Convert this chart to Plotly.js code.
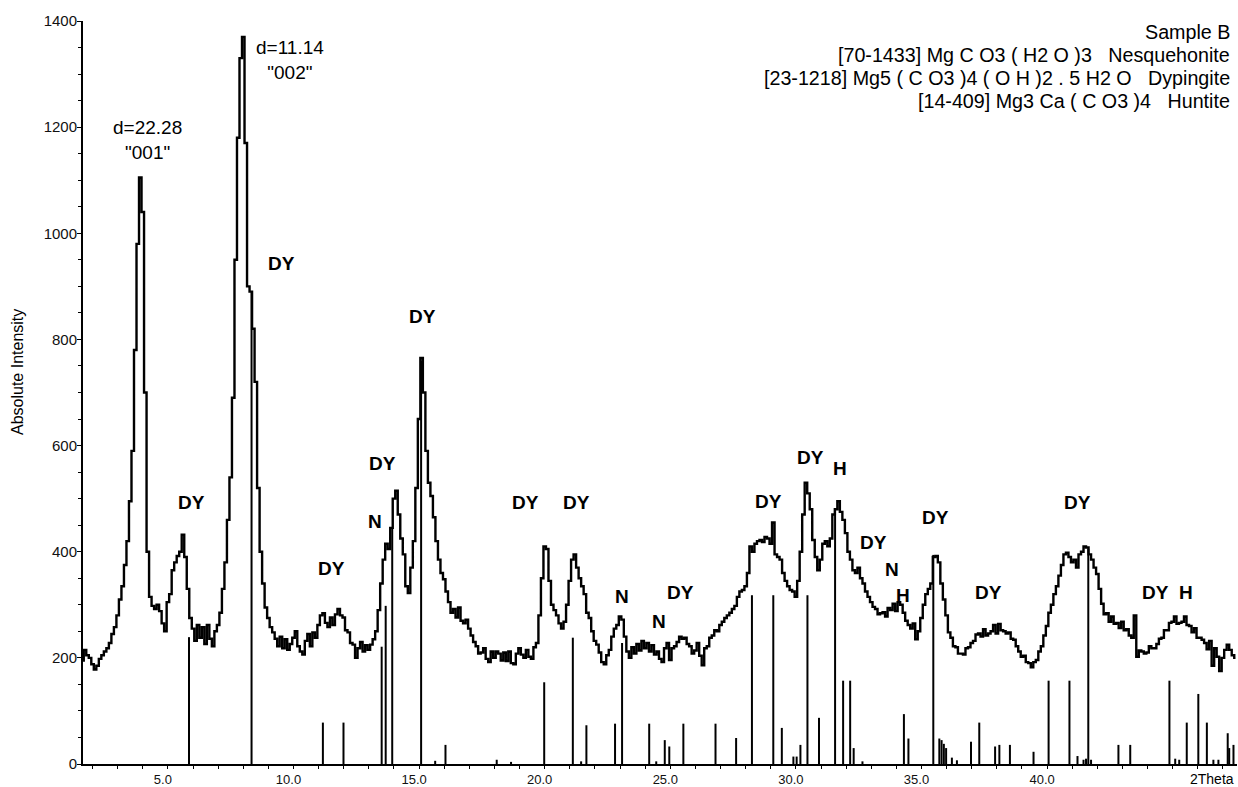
<!DOCTYPE html>
<html>
<head>
<meta charset="utf-8">
<script src="https://cdn.plot.ly/plotly-3.0.1.min.js"></script>
<style>
html,body{margin:0;padding:0;background:#fff;}
#chart{width:1238px;height:787px;}
</style>
</head>
<body>
<div id="chart"></div>
<script>
// Measured diffractogram: each row holds intensities for 2Theta = degree + 0.0 ... degree + 0.9 (step 0.1)
const rowFirstDegree = 1;
const intensityRows = [
  [null,null,null,null,null,null,195,215,205,200],
  [188,178,185,198,205,212,218,228,245,258],
  [280,310,335,375,420,495,590,780,980,1105],
  [1040,700,400,315,298,292,300,288,265,250],
  [305,320,365,380,392,400,432,390,330,275],
  [255,232,262,238,258,226,262,236,222,250],
  [262,285,330,380,460,540,690,950,1180,1330],
  [1370,1170,900,890,820,720,520,400,340,295],
  [275,258,248,236,222,240,218,235,215,226],
  [238,250,222,212,206,232,245,222,248,238],
  [262,280,284,266,258,276,262,282,292,280],
  [276,252,248,228,225,200,218,230,212,224],
  [215,225,235,250,290,340,385,415,405,445],
  [500,515,470,425,395,335,322,370,420,520],
  [650,765,700,590,530,505,465,420,385,360],
  [348,325,305,285,292,276,295,270,265,272],
  [255,242,230,222,208,210,218,198,192,212],
  [200,212,208,195,210,194,212,190,188,208],
  [218,206,200,215,202,198,220,228,280,350],
  [410,405,345,300,290,280,265,255,268,300],
  [345,385,395,370,350,335,320,285,275,250],
  [232,225,210,192,188,205,215,240,255,262],
  [278,272,240,212,200,220,208,226,214,232],
  [218,228,212,224,206,212,198,192,218,228],
  [196,218,222,230,240,236,238,226,222,208],
  [214,228,204,186,218,222,238,242,252,250],
  [262,268,275,280,285,292,298,315,325,328],
  [335,360,410,400,415,420,422,418,428,425],
  [415,455,395,390,385,360,345,335,328,325],
  [315,345,400,470,530,510,480,422,390,365],
  [385,415,420,410,425,470,480,495,475,460],
  [435,400,385,365,360,370,350,340,325,315],
  [305,296,292,282,284,286,278,294,290,302],
  [288,305,300,285,270,262,255,265,235,250],
  [275,300,320,330,340,390,392,380,340,310],
  [280,248,238,222,220,208,208,206,218,220],
  [228,232,244,246,240,254,242,246,250,262],
  [246,264,252,250,246,248,236,234,222,212],
  [202,204,192,190,182,192,196,212,222,242],
  [260,285,300,320,335,355,375,395,398,390],
  [380,385,370,395,400,410,408,395,385,370],
  [358,330,302,282,284,268,278,264,266,256],
  [268,252,254,242,238,280,202,214,212,208],
  [210,222,218,218,226,236,238,252,252,266],
  [268,278,264,266,268,278,262,260,248,256],
  [238,238,234,228,216,232,185,218,202,175],
  [200,215,225,215,205,200]
];

// Reference pattern sticks (2Theta, intensity)
const stickTheta = [5.84,8.33,11.17,11.99,13.51,13.67,13.93,15.08,15.64,16.05,18.09,18.66,19.98,21.12,21.45,21.66,22.80,23.08,24.16,24.44,24.78,24.96,25.52,26.80,27.62,28.25,29.10,29.44,29.90,30.03,30.18,30.46,30.92,31.56,31.88,32.16,32.30,32.65,34.30,34.48,35.47,35.71,35.80,35.89,35.98,36.21,36.41,36.97,37.30,37.93,38.10,38.52,39.46,40.06,40.89,41.21,41.45,41.55,41.64,41.75,42.84,43.31,44.87,45.10,45.26,45.56,46.02,46.36,46.62,46.82,47.19,47.25,47.42];
const stickHeight = [239,890,78,78,221,298,445,760,6,36,8,4,154,238,5,73,76,228,76,5,45,33,76,76,49,318,318,68,14,14,36,318,87,480,157,157,30,5,94,48,394,48,45,38,30,12,7,42,78,33,36,36,23,157,157,15,8,10,405,8,36,36,157,10,8,78,132,78,8,8,58,30,36];

// Phase labels
const labelText  = ['DY','DY','DY','DY','DY','N','DY','DY','N','N','DY','DY','DY','H','DY','N','H','DY','DY','DY','DY','H'];
const labelTheta = [9.51,15.12,5.92,11.5,13.55,13.25,19.22,21.25,23.08,24.55,25.39,28.89,30.57,31.76,33.07,33.83,34.27,35.54,37.65,41.23,44.3,45.53];
const labelInt   = [944,844,492,369,566,456,492,492,315,268,324,494,578,556,418,366,318,465,324,492,324,324];

const peakNotes = ['d=22.28<br>"001"', 'd=11.14<br>"002"'];
const peakNoteTheta = [4.17, 9.88];
const peakNoteInt = [1176, 1327];

const legendLines = [
  'Sample B',
  '[70-1433] Mg C O3 ( H2 O )3\u00A0\u00A0\u00A0Nesquehonite',
  '[23-1218] Mg5 ( C O3 )4 ( O H )2 . 5 H2 O\u00A0\u00A0\u00A0Dypingite',
  '[14-409] Mg3 Ca ( C O3 )4\u00A0\u00A0\u00A0Huntite'
];

const xTickVals = [5,10,15,20,25,30,35,40];
const xTickText = ['5.0','10.0','15.0','20.0','25.0','30.0','35.0','40.0'];

// Build traces
const xs = [], ys = [];
intensityRows.forEach((row, k) => {
  const d = rowFirstDegree + k;
  row.forEach((v, j) => { xs.push(+(d + j / 10).toFixed(2)); ys.push(v); });
});
const sx = [], sy = [];
stickTheta.forEach((t, i) => { sx.push(t, t, null); sy.push(0, stickHeight[i], null); });

const FONT = 'Liberation Sans, Arial, sans-serif';

const traces = [
  {x: sx, y: sy, type: 'scatter', mode: 'lines', line: {color: '#000', width: 2}, hoverinfo: 'skip'},
  {x: xs, y: ys, type: 'scatter', mode: 'lines', line: {color: '#000', width: 2.4, shape: 'hvh'}, connectgaps: false}
];

const ann = [];
labelText.forEach((t, i) => ann.push({
  x: labelTheta[i], y: labelInt[i], xref: 'x', yref: 'y', text: t, showarrow: false,
  xanchor: 'center', yanchor: 'middle', font: {family: FONT, size: 19, color: '#000', weight: 'bold'}
}));
peakNotes.forEach((t, i) => ann.push({
  x: peakNoteTheta[i], y: peakNoteInt[i], xref: 'x', yref: 'y', text: t, showarrow: false,
  xanchor: 'center', yanchor: 'middle', align: 'center', font: {family: FONT, size: 19, color: '#000'}
}));
const legendY = [0.9856, 0.9542, 0.9229, 0.8927];
legendLines.forEach((t, i) => ann.push({
  x: 1, xshift: -5, y: legendY[i], xref: 'paper', yref: 'paper', text: t, showarrow: false,
  xanchor: 'right', yanchor: 'middle', font: {family: FONT, size: 19.7, color: '#000'}
}));
ann.push({x: 1, xshift: -1, y: -0.0202, xref: 'paper', yref: 'paper', text: '2Theta', showarrow: false,
  xanchor: 'right', yanchor: 'middle', font: {family: FONT, size: 14, color: '#000'}});
ann.push({x: -0.0563, y: 0.5276, xref: 'paper', yref: 'paper', text: 'Absolute Intensity', showarrow: false,
  textangle: -90, xanchor: 'center', yanchor: 'middle', font: {family: FONT, size: 16, color: '#000'}});

const layout = {
  width: 1238, height: 787,
  margin: {l: 83, r: 1, t: 21, b: 23, pad: 0},
  paper_bgcolor: '#fff', plot_bgcolor: '#fff',
  showlegend: false,
  font: {family: FONT, color: '#000'},
  xaxis: {
    range: [1.62, 47.56], showgrid: false, zeroline: false,
    showline: true, linecolor: '#000', linewidth: 2,
    ticks: 'outside', ticklen: 3, tickwidth: 1, tickcolor: '#000',
    tickmode: 'array', tickvals: xTickVals, ticktext: xTickText,
    ticklabelshift: -5, ticklabelstandoff: -1,
    tickfont: {family: FONT, size: 13, color: '#111'},
    minor: {dtick: 1, tick0: 0, ticks: 'outside', ticklen: 3, tickwidth: 1, tickcolor: '#000', showgrid: false}
  },
  yaxis: {
    range: [0, 1400], showgrid: false, zeroline: false,
    showline: true, linecolor: '#000', linewidth: 2,
    ticks: 'outside', ticklen: 4, tickwidth: 1, tickcolor: '#000',
    dtick: 200, tick0: 0, ticklabelstandoff: -3,
    tickfont: {family: FONT, size: 15, color: '#111'},
    minor: {dtick: 50, tick0: 0, ticks: 'outside', ticklen: 3, tickwidth: 1, tickcolor: '#000', showgrid: false}
  },
  annotations: ann
};

Plotly.newPlot('chart', traces, layout, {staticPlot: true, displayModeBar: false});
</script>
</body>
</html>
